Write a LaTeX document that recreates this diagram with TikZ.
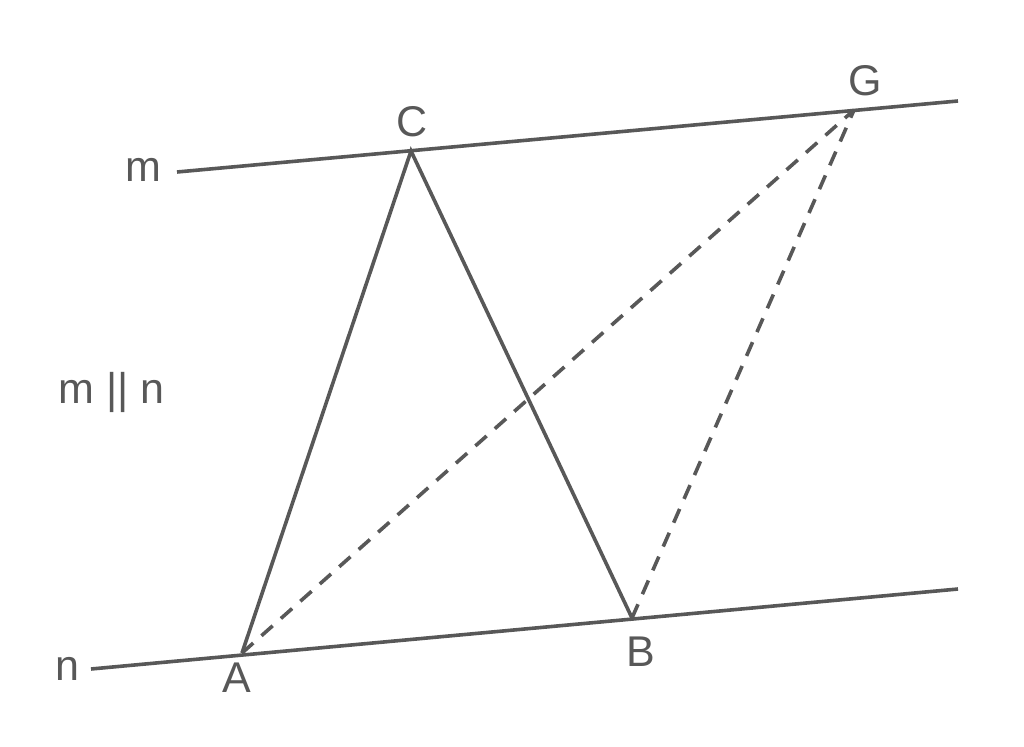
\documentclass[tikz,border=0pt]{standalone}
\usepackage{fontspec}
\setmainfont{Liberation Sans}
\definecolor{ink}{RGB}{88,88,88}
\begin{document}
\begin{tikzpicture}[x=1pt,y=-1pt,
  geo/.style={draw=ink,line width=3.6pt},
  dashline/.style={geo,dash pattern=on 15pt off 11pt},
  lbl/.style={text=ink,inner sep=0pt,anchor=base,font=\fontsize{43}{50}\selectfont}]
\useasboundingbox (0,0) rectangle (1024,746);
\coordinate (m1) at (177,172);
\coordinate (m2) at (958,101);
\coordinate (n1) at (91,669);
\coordinate (n2) at (958,589);
\coordinate (A) at (242,653);
\coordinate (B) at (632,618);
\coordinate (C) at (411,151);
\coordinate (G) at (854,110);
\draw[geo] (m1) -- (m2);
\draw[geo] (n1) -- (n2);
\draw[geo,line join=miter] (A) -- (C) -- (B);
\draw[dashline] (A) -- (G);
\draw[dashline] (B) -- (G);
\node[lbl] (lm) at (143,182) {m};
\node[lbl] (ln) at (67,680) {n};
\node[lbl] (lC) at (412,137) {C};
\node[lbl] (lG) at (865,96) {G};
\node[lbl] (lA) at (237,692) {A};
\node[lbl] (lB) at (641,666) {B};
\node[lbl] (lpar) at (111.5,403) {m || n};
\end{tikzpicture}
\end{document}
